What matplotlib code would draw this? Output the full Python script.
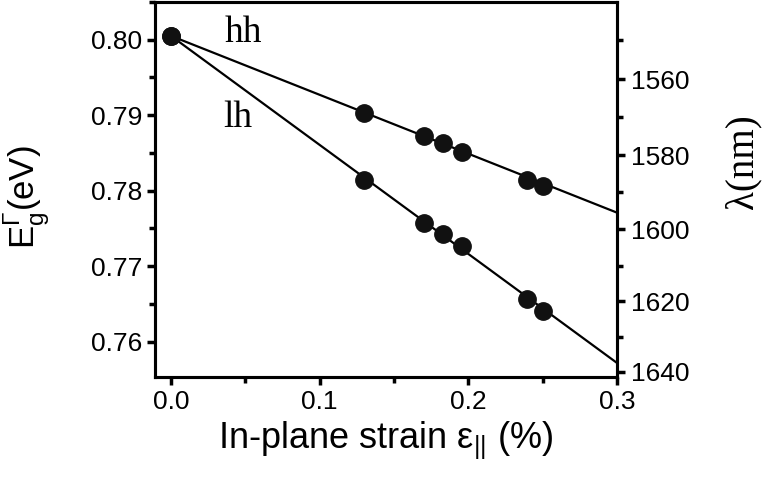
import numpy as np
import matplotlib
matplotlib.use("Agg")
import matplotlib.pyplot as plt
from matplotlib.ticker import FixedLocator, MultipleLocator

plt.rcParams['font.family'] = ['Liberation Sans', 'DejaVu Sans']
plt.rcParams['mathtext.fontset'] = 'custom'
plt.rcParams['mathtext.rm'] = 'Liberation Sans'

# strain (%) and band gap (eV)
strain = [0.0, 0.13, 0.17, 0.183, 0.196, 0.2395, 0.25]
eg_hh = [0.8005, 0.7903, 0.7873, 0.7863, 0.7851, 0.7814, 0.7806]
eg_lh = [0.8005, 0.7814, 0.7757, 0.7743, 0.7727, 0.7657, 0.7640]

# straight fit lines, end points
fit_x = [0.0, 0.3]
fit_hh = [0.8005, 0.7771]
fit_lh = [0.8005, 0.7572]

lam_major = [1560, 1580, 1600, 1620, 1640]
lam_minor = [1550, 1570, 1590, 1610, 1630]


def nm_to_ev(lam):
    return 1239.84 / np.asarray(lam, dtype=float)


fig = plt.figure(figsize=(7.71, 4.86), dpi=100)
ax = fig.add_axes([0.201, 0.224, 0.599, 0.772])

ax.plot(fit_x, fit_hh, color='black', lw=1.6, zorder=2)
ax.plot(fit_x, fit_lh, color='black', lw=1.6, zorder=2)
ax.plot(strain, eg_hh, 'o', color='#111111', ms=12.5, zorder=3)
ax.plot(strain, eg_lh, 'o', color='#111111', ms=12.5, zorder=3)

ax.text(0.0485, 0.8009, 'hh', family='Liberation Serif', fontsize=27,
        ha='center', va='center')
ax.text(0.045, 0.7897, 'lh', family='Liberation Serif', fontsize=27,
        ha='center', va='center')

ax.set_xlim(-0.0108, 0.3)
ax.set_ylim(0.7553, 0.805)
ax.xaxis.set_major_locator(MultipleLocator(0.1))
ax.xaxis.set_minor_locator(MultipleLocator(0.05))
ax.yaxis.set_major_locator(MultipleLocator(0.01))
ax.yaxis.set_minor_locator(MultipleLocator(0.005))
ax.xaxis.set_major_formatter(lambda v, p: f"{v:.1f}")
ax.yaxis.set_major_formatter(lambda v, p: f"{v:.2f}")

for s in ax.spines.values():
    s.set_linewidth(2.2)
ax.tick_params(which='major', direction='out', length=6, width=2.5,
               labelsize=19, pad=3)
ax.tick_params(which='minor', direction='out', length=4, width=2.5)
ax.tick_params(top=False, right=False, which='both')

ax.set_xlabel('In-plane strain ε$_\\mathregular{||}$ (%)', fontsize=26,
              labelpad=4)
ax.set_ylabel('E$_\\mathregular{g}^\\mathregular{Γ}$(eV)', fontsize=25)
ax.yaxis.set_label_coords(-0.222, 0.48)

ax2 = ax.twinx()
ax2.set_ylim(ax.get_ylim())
ax2.yaxis.set_major_locator(FixedLocator(nm_to_ev(lam_major)))
ax2.yaxis.set_minor_locator(FixedLocator(nm_to_ev(lam_minor)))
ax2.set_yticklabels([str(v) for v in lam_major])
for s in ax2.spines.values():
    s.set_linewidth(2.2)
ax2.tick_params(which='major', direction='out', length=6, width=2.5,
                labelsize=19, pad=4)
ax2.tick_params(which='minor', direction='out', length=4, width=2.5)
ax2.set_ylabel('λ(nm)', family='Liberation Serif', fontsize=28,
               rotation=90)
ax2.yaxis.set_label_coords(1.232, 0.575)

fig.savefig('out.png', dpi=100)
